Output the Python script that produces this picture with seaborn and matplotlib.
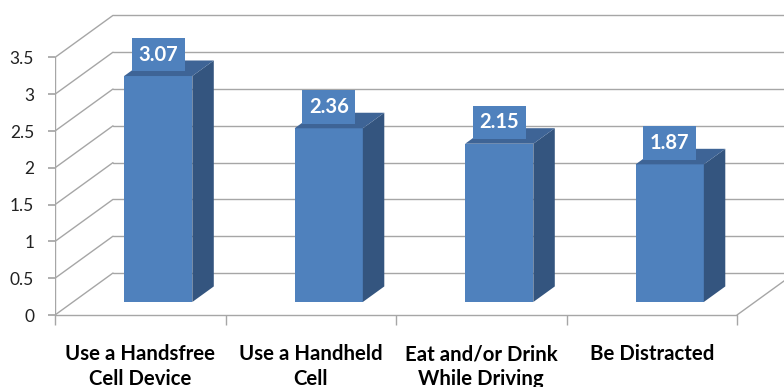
import matplotlib
matplotlib.use("Agg")
import matplotlib.pyplot as plt
from matplotlib.patches import Polygon
import numpy as np
import pandas as pd
import seaborn as sns

categories = ["Use a Handsfree\nCell Device", "Use a Handheld\nCell",
              "Eat and/or Drink\nWhile Driving", "Be Distracted"]
values = [3.07, 2.36, 2.15, 1.87]
yticks = [0, 0.5, 1, 1.5, 2, 2.5, 3, 3.5]
ytick_labels = ["0", "0.5", "1", "1.5", "2", "2.5", "3", "3.5"]

sns.set_theme(style="white")
plt.rcParams['font.family'] = ['Lato', 'DejaVu Sans']

FRONT = "#4F81BD"
SIDE = "#34557F"
TOP = "#3E6496"
GRID = "#A6A6A6"

W, H = 784, 387
fig = plt.figure(figsize=(W / 100, H / 100), dpi=100)
left_px, right_px, bottom_px, top_px = 55, 784, 315, 8
ax = fig.add_axes([left_px / W, (H - bottom_px) / H,
                   (right_px - left_px) / W, (bottom_px - top_px) / H])
px_x, px_y = 170.5, 73.6
xmax = -0.5 + (right_px - left_px) / px_x
ax.set_xlim(-0.5, xmax)
ax.set_ylim(0, (bottom_px - top_px) / px_y)

# depth of the 3D box (data units)
DX, DY = 58 / px_x, 42 / px_y
F = 0.31   # front face depth fraction
D = 0.37   # bar depth fraction
n = len(categories)

# walls / gridlines
for t in yticks:
    ax.plot([-0.5, -0.5 + DX], [t, t + DY], color=GRID, lw=1, zorder=1)
    ax.plot([-0.5 + DX, xmax], [t + DY, t + DY], color=GRID, lw=1, zorder=1)
ax.plot([-0.5, -0.5], [0, yticks[-1]], color=GRID, lw=1, zorder=1)
ax.plot([-0.5, n - 0.5], [0, 0], color=GRID, lw=1, zorder=1, clip_on=False)
ax.plot([n - 0.5, n - 0.5 + DX], [0, DY], color=GRID, lw=1, zorder=1)

df = pd.DataFrame({"cat": categories, "val": values})
sns.barplot(data=df, x="cat", y="val", width=0.4, color=FRONT,
            saturation=1, ax=ax, zorder=3)
ax.set_xlim(-0.5, xmax)
ax.set_ylim(0, (bottom_px - top_px) / px_y)

for p, v in zip(ax.patches, values):
    p.set_x(p.get_x() + F * DX)
    p.set_y(F * DY)
    p.set_edgecolor("none")
    x0 = p.get_x(); x1 = x0 + p.get_width()
    y0 = p.get_y(); y1 = y0 + p.get_height()
    ddx, ddy = D * DX, D * DY
    ax.add_patch(Polygon([(x1, y0), (x1 + ddx, y0 + ddy), (x1 + ddx, y1 + ddy), (x1, y1)],
                         closed=True, fc=SIDE, ec="none", zorder=3))
    ax.add_patch(Polygon([(x0, y1), (x0 + ddx, y1 + ddy), (x1 + ddx, y1 + ddy), (x1, y1)],
                         closed=True, fc=TOP, ec="none", zorder=3))
    ax.text((x0 + x1) / 2, y1 + 0.29, f"{v:.2f}", ha="center", va="center",
            color="white", fontsize=14.5, fontweight="bold", zorder=5,
            bbox=dict(boxstyle="square,pad=0.33", fc=FRONT, ec="none"))

for s in ax.spines.values():
    s.set_visible(False)
ax.set_xlabel("")
ax.set_ylabel("")
ax.set_yticks(yticks)
ax.set_yticklabels(ytick_labels, fontsize=12.5, color="#222222")
ax.tick_params(axis="y", left=True, length=5, color=GRID, pad=10)
ax.set_xticks(range(n))
ax.set_xticklabels(categories, fontsize=14.7, fontweight="bold", color="black",
                   linespacing=1.3)
ax.set_xticks(np.arange(-0.5, n, 1.0), minor=True)
ax.tick_params(axis="x", which="major", bottom=False, length=0, pad=21)
ax.tick_params(axis="x", which="minor", bottom=True, length=7, color=GRID)
ax.grid(False)

fig.savefig("out.png", dpi=100)
